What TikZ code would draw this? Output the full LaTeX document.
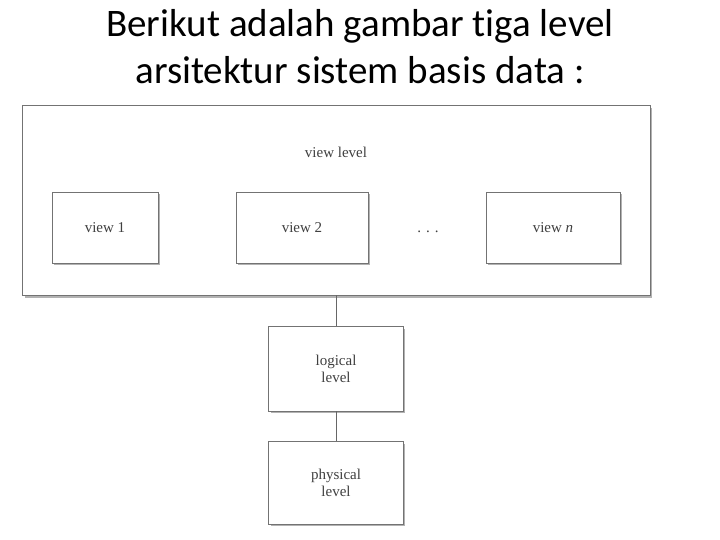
\documentclass[tikz,border=0pt]{standalone}
\usepackage{fontspec}
\setmainfont{Liberation Serif}
\newfontfamily\titlefont[Ligatures=NoCommon]{Carlito}
\begin{document}
\begin{tikzpicture}[x=1pt,y=-1pt,
  bx/.style={draw=black!55,line width=0.8pt,fill=white},
  lbl/.style={font=\fontsize{15}{17}\selectfont,text=black!75,align=center},
  ln/.style={draw=black!60,line width=0.8pt}]
\useasboundingbox (0,0) rectangle (720,540);
\node[font=\titlefont\fontsize{39}{47}\selectfont,align=center] (title) at (360,47) {Berikut adalah gambar tiga level\\arsitektur sistem basis data :};
% shadows
\fill[black!30] (25,108) rectangle (652,298);
\fill[black!30] (271,329) rectangle (405,413);
\fill[black!30] (271,444) rectangle (405,526);
\draw[bx] (22,105) rectangle (650,295);
\node[lbl] (vl) at (336,152) {view level};
\foreach \n/\a/\b/\t in {v1/52/158/view 1,v2/236/368/view 2,vn/486/620/{view \textit{n}}}{
  \fill[black!30] (\a+2,194) rectangle (\b+2,265);
  \draw[bx] (\a,192) rectangle (\b,263);
  \node[lbl] (\n) at ({(\a+\b)/2},228) {\t};
}
\node[lbl] (dots) at (428,232) {. . .};
\coordinate (top) at (336,295);
\node[bx,minimum width=135pt,minimum height=85pt,inner sep=0pt] (log) at (336,368.5) {};
\node[lbl] at (log) {logical\\level};
\node[bx,minimum width=135pt,minimum height=83pt,inner sep=0pt] (phy) at (336,482.5) {};
\node[lbl] at (phy) {physical\\level};
\draw[ln] (top) -- (log.north);
\draw[ln] (log.south) -- (phy.north);
\end{tikzpicture}
\end{document}
